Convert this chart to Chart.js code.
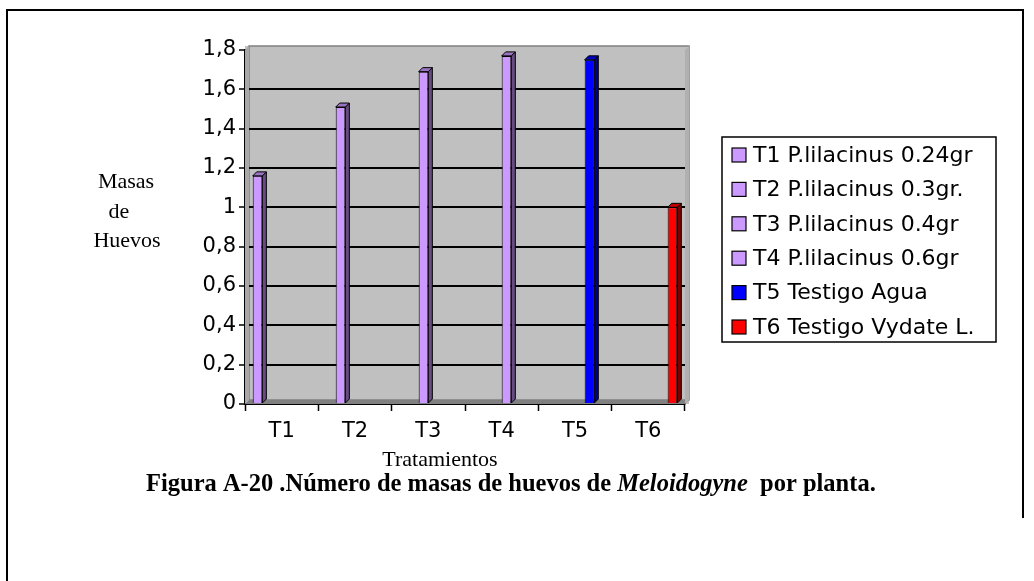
<!DOCTYPE html>
<html>
<head>
<meta charset="utf-8">
<script src="https://cdn.jsdelivr.net/npm/chart.js@4/dist/chart.umd.min.js"></script>
<style>
  html, body { margin: 0; padding: 0; background: #ffffff; }
  #wrap { width: 1034px; height: 581px; position: relative; }
</style>
</head>
<body>
<div id="wrap"><canvas id="c" width="1034" height="581"></canvas></div>
<script>
// Treatments and egg-mass counts per plant
const categories = ['T1', 'T2', 'T3', 'T4', 'T5', 'T6'];
const seriesLabels = [
  'T1 P.lilacinus 0.24gr',
  'T2 P.lilacinus 0.3gr.',
  'T3 P.lilacinus 0.4gr',
  'T4 P.lilacinus 0.6gr',
  'T5 Testigo Agua',
  'T6 Testigo Vydate L.'
];
const seriesValues = [1.16, 1.51, 1.69, 1.77, 1.75, 1.0];
const yTickLabels = ['0', '0,2', '0,4', '0,6', '0,8', '1', '1,2', '1,4', '1,6', '1,8'];

// Colours per series: front face, side face, top face
const faceColors = ['#CC99FF', '#CC99FF', '#CC99FF', '#CC99FF', '#0000FF', '#FF0000'];
const sideColors = ['#664C80', '#664C80', '#664C80', '#664C80', '#000080', '#800000'];
const topColors  = ['#9973BF', '#9973BF', '#9973BF', '#9973BF', '#0000C0', '#C00000'];

const SANS = '"DejaVu Sans", Verdana, sans-serif';
const SERIF = '"Liberation Serif", "Times New Roman", serif';

// Each treatment is its own series with a single value in its own category
const datasets = seriesLabels.map((label, i) => ({
  label,
  data: categories.map((_, j) => (j === i ? seriesValues[i] : null)),
  backgroundColor: faceColors[i],
  borderColor: '#000000',
  borderWidth: 1,
  borderSkipped: 'bottom',
  categoryPercentage: 0.79,
  barPercentage: 1.0
}));

const DEPTH = 4;

// Grey back wall and the darker floor
const wallPlugin = {
  id: 'wall',
  beforeDraw(chart) {
    const { ctx, chartArea: a } = chart;
    ctx.save();
    ctx.fillStyle = '#C0C0C0';
    ctx.fillRect(a.left, a.top - DEPTH, a.right - a.left + DEPTH, a.bottom - a.top + DEPTH);
    ctx.strokeStyle = '#808080';
    ctx.lineWidth = 1.5;
    ctx.strokeRect(a.left + DEPTH, a.top - DEPTH, a.right - a.left, a.bottom - a.top);
    ctx.restore();
  },
  beforeDatasetsDraw(chart) {
    const { ctx, chartArea: a } = chart;
    ctx.save();
    // floor
    ctx.fillStyle = '#808080';
    ctx.beginPath();
    ctx.moveTo(a.left, a.bottom);
    ctx.lineTo(a.right, a.bottom);
    ctx.lineTo(a.right + DEPTH, a.bottom - DEPTH);
    ctx.lineTo(a.left + DEPTH, a.bottom - DEPTH);
    ctx.closePath();
    ctx.fill();
    // left side wall
    ctx.fillStyle = '#A8A8A8';
    ctx.beginPath();
    ctx.moveTo(a.left, a.bottom);
    ctx.lineTo(a.left, a.top);
    ctx.lineTo(a.left + DEPTH, a.top - DEPTH);
    ctx.lineTo(a.left + DEPTH, a.bottom - DEPTH);
    ctx.closePath();
    ctx.fill();
    // right side wall
    ctx.fillStyle = '#B0B0B0';
    ctx.beginPath();
    ctx.moveTo(a.right, a.bottom);
    ctx.lineTo(a.right, a.top);
    ctx.lineTo(a.right + DEPTH, a.top - DEPTH);
    ctx.lineTo(a.right + DEPTH, a.bottom - DEPTH);
    ctx.closePath();
    ctx.fill();
    ctx.restore();
  }
};

// Side and top faces of every column
const columnPlugin = {
  id: 'columns3d',
  afterDatasetsDraw(chart) {
    const { ctx } = chart;
    ctx.save();
    ctx.lineWidth = 1;
    ctx.strokeStyle = '#000000';
    chart.data.datasets.forEach((ds, i) => {
      const meta = chart.getDatasetMeta(i);
      meta.data.forEach((el, j) => {
        if (ds.data[j] == null) return;
        const p = el.getProps(['x', 'y', 'base', 'width'], true);
        const l = p.x - p.width / 2, r = p.x + p.width / 2;
        // side face
        ctx.fillStyle = sideColors[i];
        ctx.beginPath();
        ctx.moveTo(r, p.y);
        ctx.lineTo(r + DEPTH, p.y - DEPTH);
        ctx.lineTo(r + DEPTH, p.base - DEPTH);
        ctx.lineTo(r, p.base);
        ctx.closePath();
        ctx.fill();
        ctx.stroke();
        // top face
        ctx.fillStyle = topColors[i];
        ctx.beginPath();
        ctx.moveTo(l, p.y);
        ctx.lineTo(l + DEPTH, p.y - DEPTH);
        ctx.lineTo(r + DEPTH, p.y - DEPTH);
        ctx.lineTo(r, p.y);
        ctx.closePath();
        ctx.fill();
        ctx.stroke();
      });
    });
    ctx.restore();
  }
};

// Frame, axis titles, caption and legend box
const decorPlugin = {
  id: 'decor',
  afterDraw(chart) {
    const { ctx } = chart;
    ctx.save();

    // page frame
    ctx.strokeStyle = '#000000';
    ctx.lineWidth = 2;
    ctx.beginPath();
    ctx.moveTo(7, 581);
    ctx.lineTo(7, 10);
    ctx.lineTo(1023, 10);
    ctx.lineTo(1023, 518);
    ctx.stroke();

    // vertical axis title
    ctx.fillStyle = '#000000';
    ctx.font = '22px ' + SERIF;
    ctx.textAlign = 'center';
    ctx.textBaseline = 'middle';
    ctx.fillText('Masas', 126, 182);
    ctx.fillText('de', 119, 212);
    ctx.fillText('Huevos', 127, 241);

    // horizontal axis title
    ctx.fillText('Tratamientos', 440, 460);

    // caption
    ctx.textAlign = 'left';
    ctx.textBaseline = 'alphabetic';
    const parts = [
      ['bold 24.5px ' + SERIF, 'Figura A-20 .Número de masas de huevos de '],
      ['italic bold 24.5px ' + SERIF, 'Meloidogyne'],
      ['bold 24.5px ' + SERIF, '  por planta.']
    ];
    let x = 146;
    parts.forEach(([f, t]) => {
      ctx.font = f;
      ctx.fillText(t, x, 491);
      x += ctx.measureText(t).width;
    });

    // legend
    ctx.lineWidth = 1.5;
    ctx.strokeStyle = '#000000';
    ctx.strokeRect(722, 137, 274, 205);
    ctx.font = '22px ' + SANS;
    ctx.textBaseline = 'middle';
    chart.data.datasets.forEach((ds, i) => {
      const cy = 155 + i * 34.4;
      ctx.fillStyle = ds.backgroundColor;
      ctx.fillRect(732, cy - 7, 14, 14);
      ctx.lineWidth = 1.2;
      ctx.strokeRect(732, cy - 7, 14, 14);
      ctx.fillStyle = '#000000';
      ctx.fillText(ds.label, 753, cy + 1);
    });

    ctx.restore();
  }
};

new Chart(document.getElementById('c'), {
  type: 'bar',
  data: { labels: categories, datasets },
  plugins: [wallPlugin, columnPlugin, decorPlugin],
  options: {
    responsive: false,
    animation: false,
    devicePixelRatio: 1,
    layout: { padding: { left: 185, right: 349, top: 50, bottom: 137 } },
    plugins: { legend: { display: false }, tooltip: { enabled: false } },
    scales: {
      x: {
        offset: true,
        grid: {
          offset: true,
          drawOnChartArea: false,
          drawTicks: true,
          tickLength: 7,
          tickColor: '#000000',
          tickWidth: 1.5
        },
        border: { display: true, color: '#000000', width: 1.5 },
        ticks: { color: '#000000', font: { family: SANS, size: 21 }, padding: 8 },
        afterFit(s) { s.height = 40; }
      },
      y: {
        min: 0,
        max: 1.8,
        ticks: {
          stepSize: 0.2,
          color: '#000000',
          font: { family: SANS, size: 21 },
          padding: 3,
          callback: (v, idx) => yTickLabels[idx]
        },
        grid: {
          color: (c) => (c.index === yTickLabels.length - 1 ? 'rgba(0,0,0,0)' : '#000000'),
          lineWidth: 2,
          tickColor: '#000000',
          tickLength: 6,
          tickWidth: 1.5
        },
        border: { display: true, color: '#000000', width: 1.5 },
        afterFit(s) { s.width = 60; }
      }
    }
  }
});
</script>
</body>
</html>
